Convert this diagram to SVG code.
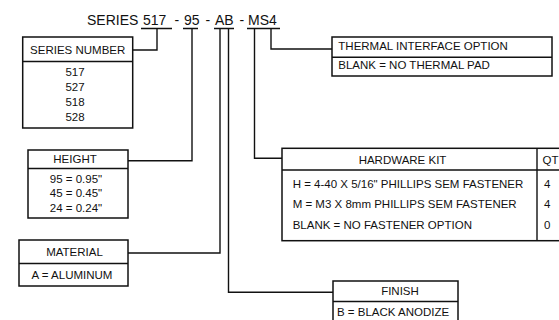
<svg xmlns="http://www.w3.org/2000/svg" width="559" height="320" viewBox="0 0 559 320">
<style>
text{font-family:"Liberation Sans",Arial,sans-serif;fill:#111}
.t{font-size:14px}
.b{font-size:11.5px}
.m{text-anchor:middle}
.box{fill:#fff;stroke:#111;stroke-width:1.5}
.ln{fill:none;stroke:#111;stroke-width:1.4}
</style>
<rect width="559" height="320" fill="#fff"/>
<g id="title">
<text class="t" x="87" y="24.5">SERIES</text>
<text class="t" x="143" y="24.5">517</text>
<text class="t" x="174.5" y="24.5">-</text>
<text class="t" x="184" y="24.5">95</text>
<text class="t" x="205.5" y="24.5">-</text>
<text class="t" x="215" y="24.5">AB</text>
<text class="t" x="239.5" y="24.5">-</text>
<text class="t" x="248" y="24.5">MS4</text>
<path class="ln" d="M141,28.5H172M183,28.5H198M214,28.5H234M247,28.5H280"/>
</g>
<g id="connectors">
<path class="ln" d="M157,28.5V50H133"/>
<path class="ln" d="M192,28.5V160.7H128"/>
<path class="ln" d="M220,28.5V253H128"/>
<path class="ln" d="M228.5,28.5V292.3H333"/>
<path class="ln" d="M254.5,28.5V158.3H282"/>
<path class="ln" d="M271,28.5V49H332"/>
</g>
<g id="series-number">
<rect class="box" x="22.7" y="37" width="110" height="91"/>
<path class="ln" d="M22.7,61.5H132.7"/>
<text class="b m" x="77.7" y="54">SERIES NUMBER</text>
<text class="b m" x="75" y="75.5">517</text>
<text class="b m" x="75" y="90.5">527</text>
<text class="b m" x="75" y="105.5">518</text>
<text class="b m" x="75" y="120.5">528</text>
</g>
<g id="height">
<rect class="box" x="28" y="150" width="100" height="68"/>
<path class="ln" d="M28,168.5H128"/>
<text class="b m" x="75" y="162.5">HEIGHT</text>
<text class="b m" x="76" y="182.7">95 = 0.95"</text>
<text class="b m" x="76" y="197">45 = 0.45"</text>
<text class="b m" x="76" y="211.5">24 = 0.24"</text>
</g>
<g id="material">
<rect class="box" x="19" y="240" width="109" height="46"/>
<path class="ln" d="M19,263.5H128"/>
<text class="b m" x="74.5" y="256">MATERIAL</text>
<text class="b m" x="72" y="278.5">A = ALUMINUM</text>
</g>
<g id="finish">
<rect class="box" x="333" y="281" width="125" height="45"/>
<path class="ln" d="M333,301.5H458"/>
<text class="b m" x="400" y="295.2">FINISH</text>
<text class="b" x="337" y="315.7">B = BLACK ANODIZE</text>
</g>
<g id="thermal">
<rect class="box" x="332" y="37" width="220" height="39"/>
<path class="ln" d="M332,57.3H552"/>
<text class="b" x="338.3" y="50">THERMAL INTERFACE OPTION</text>
<text class="b" x="338.3" y="68.5">BLANK = NO THERMAL PAD</text>
</g>
<g id="hardware-kit">
<rect class="box" x="282" y="148.3" width="290" height="92.4"/>
<path class="ln" d="M282,170H572M537,148.3V240.7"/>
<text class="b m" x="402.5" y="164.2">HARDWARE KIT</text>
<text class="b" x="542.5" y="164.2">QT</text>
<text class="b" x="292.7" y="188.2">H = 4-40 X 5/16" PHILLIPS SEM FASTENER</text>
<text class="b" x="292.7" y="208.2">M = M3 X 8mm PHILLIPS SEM FASTENER</text>
<text class="b" x="292.7" y="229">BLANK = NO FASTENER OPTION</text>
<text class="b" x="544" y="188.2">4</text>
<text class="b" x="544" y="208.2">4</text>
<text class="b" x="544" y="229">0</text>
</g>
</svg>
